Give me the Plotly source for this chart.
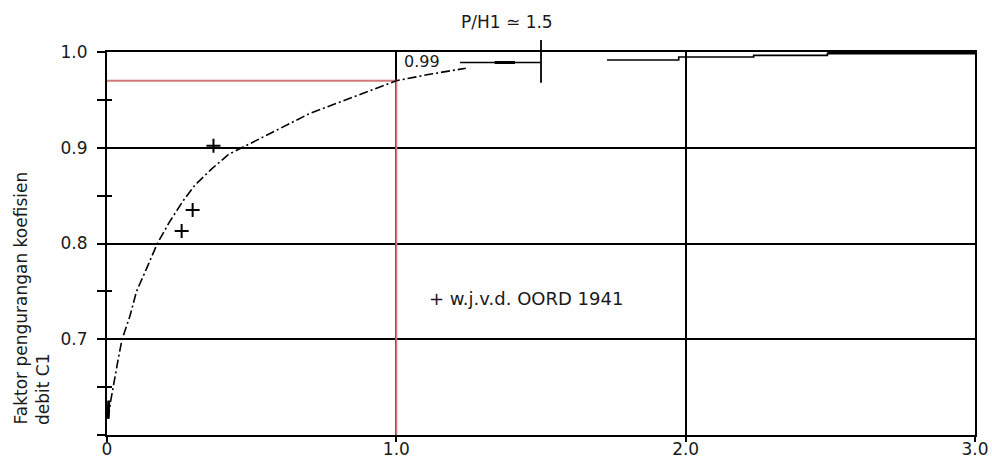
import plotly.graph_objects as go

# ---- data ----
curve_x = [0.004, 0.013, 0.038, 0.052, 0.079, 0.102, 0.137, 0.174, 0.215, 0.264, 0.304,
           0.362, 0.42, 0.472, 0.587, 0.702, 0.852, 0.967, 1.0, 1.12, 1.24]
curve_y = [0.617, 0.636, 0.678, 0.700, 0.724, 0.750, 0.774, 0.800, 0.822, 0.845, 0.861,
           0.878, 0.893, 0.901, 0.919, 0.936, 0.953, 0.966, 0.970, 0.977, 0.983]

start_x = [0.004, 0.006]
start_y = [0.617, 0.636]

flat1_x = [1.22, 1.50]
flat1_y = [0.989, 0.989]
flat1_thick_x = [1.34, 1.41]
flat1_thick_y = [0.989, 0.989]

steps_x = [1.728, 1.976, 2.235, 2.49]
steps_y = [0.9917, 0.9948, 0.9965, 0.9993]
top_x = [2.49, 3.0]
top_y = [0.9993, 0.9993]

oord_x = [0.258, 0.296, 0.368]
oord_y = [0.813, 0.835, 0.902]

ref_x = 1.0
ref_y = 0.97
ph_x = 1.5
ph_y = [0.968, 1.0125]

x_ticks = [0, 1, 2, 3]
x_labels = ["0", "1.0", "2.0", "3.0"]
y_ticks = [0.6, 0.7, 0.8, 0.9, 1.0]
y_labels = ["", "0.7", "0.8", "0.9", "1.0"]
y_minor = [0.65, 0.75, 0.85, 0.95]
Y_RANGE = [0.6, 1.0]
X_RANGE = [0, 3.0]

FONT = "DejaVu Sans"
BLACK = "#000000"
RED = "#d27a7a"
TXT = "#1a1a1a"

W, H = 992, 463
L, R, T, B = 107, 17, 52, 28
PW, PH = W - L - R, H - T - B


def ypaper(v):
    return (v - Y_RANGE[0]) / (Y_RANGE[1] - Y_RANGE[0])


fig = go.Figure()

# red reference lines
fig.add_trace(go.Scatter(x=[ref_x, ref_x], y=[Y_RANGE[0], ref_y], mode="lines",
                         line=dict(color=RED, width=2), hoverinfo="skip"))
fig.add_trace(go.Scatter(x=[0, ref_x], y=[ref_y, ref_y], mode="lines",
                         line=dict(color=RED, width=2), hoverinfo="skip"))

# main curve
fig.add_trace(go.Scatter(x=curve_x, y=curve_y, mode="lines",
                         line=dict(color=BLACK, width=1.6, dash="9px,3px,2px,3px"),
                         hoverinfo="skip"))
fig.add_trace(go.Scatter(x=start_x, y=start_y, mode="lines",
                         line=dict(color=BLACK, width=3), hoverinfo="skip"))

# flat parts near 1.0
fig.add_trace(go.Scatter(x=flat1_x, y=flat1_y, mode="lines",
                         line=dict(color=BLACK, width=1.6), hoverinfo="skip"))
fig.add_trace(go.Scatter(x=flat1_thick_x, y=flat1_thick_y, mode="lines",
                         line=dict(color=BLACK, width=3), hoverinfo="skip"))
fig.add_trace(go.Scatter(x=steps_x, y=steps_y, mode="lines",
                         line=dict(color=BLACK, width=1.6, shape="hv"), hoverinfo="skip"))
fig.add_trace(go.Scatter(x=top_x, y=top_y, mode="lines",
                         line=dict(color=BLACK, width=3.5), hoverinfo="skip"))

# OORD points
fig.add_trace(go.Scatter(x=oord_x, y=oord_y, mode="markers",
                         marker=dict(symbol="cross-thin", size=10,
                                     line=dict(color=BLACK, width=2)),
                         hoverinfo="skip"))

# inside part of minor ticks
fig.add_trace(go.Scatter(x=[None], y=[None], yaxis="y2", showlegend=False))

# P/H1 marker line (crosses the top border)
fig.add_shape(type="line", xref="x", yref="paper",
              x0=ph_x, x1=ph_x, y0=ypaper(ph_y[0]), y1=ypaper(ph_y[1]),
              line=dict(color=BLACK, width=1.8))

fig.update_layout(
    width=W, height=H,
    margin=dict(l=L, r=R, t=T, b=B, autoexpand=False),
    paper_bgcolor="white", plot_bgcolor="white",
    showlegend=False,
    font=dict(family=FONT, size=17, color=TXT),
    xaxis=dict(range=X_RANGE, tickvals=x_ticks, ticktext=x_labels,
               showgrid=True, gridcolor=BLACK, gridwidth=2,
               showline=True, linecolor=BLACK, linewidth=2, mirror=True,
               ticks="outside", ticklen=5, tickcolor=BLACK, tickwidth=2,
               ticklabelstandoff=-7,
               zeroline=False, fixedrange=True, automargin=False),
    yaxis=dict(range=Y_RANGE, tickvals=y_ticks, ticktext=y_labels,
               showgrid=True, gridcolor=BLACK, gridwidth=2,
               showline=True, linecolor=BLACK, linewidth=2, mirror=True,
               ticks="outside", ticklen=8, tickcolor=BLACK, tickwidth=2,
               minor=dict(tickvals=y_minor, ticks="outside", ticklen=8,
                          tickcolor=BLACK, tickwidth=2, showgrid=False),
               ticklabelstandoff=6,
               zeroline=False, fixedrange=True, automargin=False),
    yaxis2=dict(range=Y_RANGE, overlaying="y", side="left", anchor="x",
                tickvals=y_minor, ticks="inside", ticklen=5, tickcolor=BLACK, tickwidth=2,
                showticklabels=False, showgrid=False, showline=False, zeroline=False,
                automargin=False, fixedrange=True),
)

fig.add_annotation(x=1.382, y=(PH + T - 22) / PH, xref="x", yref="paper", text="P/H1 ≃ 1.5",
                   showarrow=False, xanchor="center", yanchor="middle",
                   font=dict(size=17, family=FONT, color=TXT))
fig.add_annotation(x=1.02, y=0.9906, xref="x", yref="y", text="0.99",
                   showarrow=False, xanchor="left", yanchor="middle",
                   font=dict(size=16, family=FONT, color=TXT))
fig.add_annotation(x=1.105, y=0.743, xref="x", yref="y", text="+ w.j.v.d. OORD 1941",
                   showarrow=False, xanchor="left", yanchor="middle",
                   font=dict(size=18, family=FONT, color=TXT))
fig.add_annotation(x=(20 - L) / PW, y=8 / PH, xref="paper", yref="paper",
                   text="Faktor pengurangan koefisien", textangle=-90,
                   showarrow=False, xanchor="center", yanchor="bottom",
                   font=dict(size=17, family=FONT, color=TXT))
fig.add_annotation(x=(43 - L) / PW, y=8 / PH, xref="paper", yref="paper",
                   text="debit C1", textangle=-90,
                   showarrow=False, xanchor="center", yanchor="bottom",
                   font=dict(size=17, family=FONT, color=TXT))

fig.write_html("out.html",
               config={"displayModeBar": False, "staticPlot": True},
               post_script="document.body.style.margin='0';document.body.style.overflow='hidden';")
